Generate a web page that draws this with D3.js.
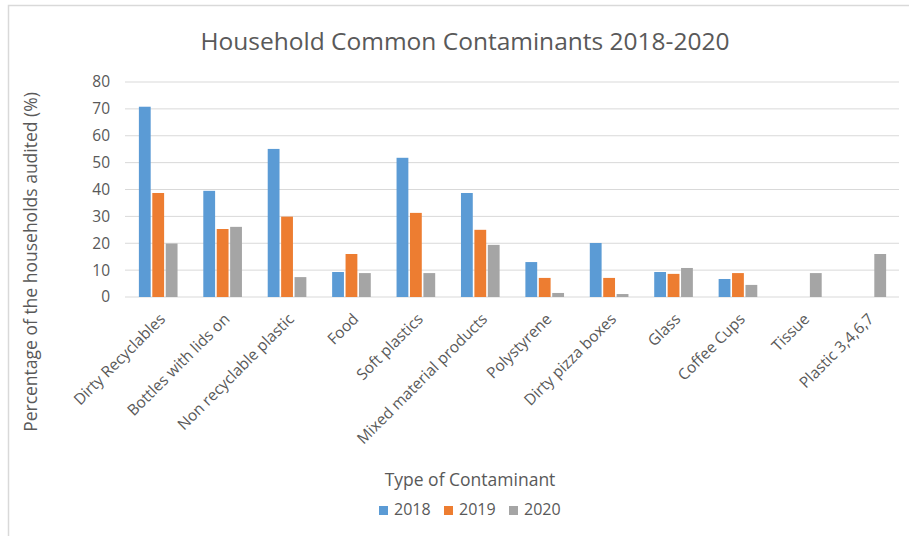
<!DOCTYPE html>
<html lang="en">
<head>
    <meta charset="UTF-8">
    <title>Household Common Contaminants 2018-2020</title>
    <style>
        body { margin: 0; background: white; }
        text { font-family: "Open Sans", "Noto Sans", sans-serif; fill: #595959; }
    </style>
</head>
<body>

    <div id="chart"></div>

    <script src="https://d3js.org/d3.v7.min.js"></script>
    <script>

    // data
    const categories = ["Dirty Recyclables", "Bottles with lids on", "Non recyclable plastic", "Food",
        "Soft plastics", "Mixed material products", "Polystyrene", "Dirty pizza boxes",
        "Glass", "Coffee Cups", "Tissue", "Plastic 3,4,6,7"];
    const years = ["2018", "2019", "2020"];
    const values2018 = [70.8, 39.5, 55.1, 9.3, 51.8, 38.7, 13.0, 20.1, 9.3, 6.7, null, null];
    const values2019 = [38.7, 25.3, 29.9, 16.0, 31.3, 25.0, 7.1, 7.1, 8.6, 8.9, null, null];
    const values2020 = [19.9, 26.1, 7.4, 8.9, 8.9, 19.4, 1.5, 1.1, 10.8, 4.5, 8.9, 16.0];
    const yTicks = [0, 10, 20, 30, 40, 50, 60, 70, 80];
    const colors = ["#5b9bd5", "#ed7d31", "#a5a5a5"];

    const series = [values2018, values2019, values2020];
    const data = categories.map((c, i) => ({
        cat: c,
        vals: years.map((y, j) => ({ year: y, v: series[j][i] }))
    }));

    // set up the page
    const W = 909, H = 536;
    const margin = {top: 82, right: 10, bottom: 239, left: 126},
        width = W - margin.left - margin.right,
        height = H - margin.top - margin.bottom;

    const root = d3.select("#chart")
        .append("svg")
        .attr("width", W)
        .attr("height", H);

    // chart frame
    root.append("rect")
        .attr("x", 8.5).attr("y", 5.5)
        .attr("width", W).attr("height", H)
        .attr("fill", "none")
        .attr("stroke", "#d9d9d9")
        .attr("stroke-width", 1.5);

    const svg = root.append("g")
        .attr("transform", `translate(${margin.left}, ${margin.top})`);

    const x = d3.scaleBand()
        .domain(categories)
        .range([0, 773])
        .paddingInner(0.35)
        .paddingOuter(0.175);

    const xSub = d3.scaleBand()
        .domain(years)
        .range([0, x.bandwidth()])
        .padding(0.12);

    const y = d3.scaleLinear()
        .domain([0, 80])
        .range([height, 0]);

    // gridlines
    svg.append("g")
        .selectAll("line")
        .data(yTicks)
        .join("line")
        .attr("x1", -1)
        .attr("x2", 773)
        .attr("y1", d => y(d))
        .attr("y2", d => y(d))
        .attr("stroke", "#d9d9d9")
        .attr("stroke-width", 1);

    // y tick labels
    svg.append("g")
        .selectAll("text")
        .data(yTicks)
        .join("text")
        .attr("x", -16)
        .attr("y", d => y(d))
        .attr("dy", "0.35em")
        .attr("text-anchor", "end")
        .style("font-size", "15.5px")
        .text(d => d);

    // bars
    svg.append("g")
        .selectAll("g")
        .data(data)
        .join("g")
        .attr("transform", d => `translate(${x(d.cat)}, 0)`)
        .selectAll("rect")
        .data(d => d.vals.filter(e => e.v !== null))
        .join("rect")
        .attr("x", d => xSub(d.year))
        .attr("y", d => y(d.v))
        .attr("width", xSub.bandwidth())
        .attr("height", d => height - y(d.v))
        .attr("fill", (d) => colors[years.indexOf(d.year)]);

    // category labels, rotated
    svg.append("g")
        .selectAll("text")
        .data(categories)
        .join("text")
        .attr("text-anchor", "end")
        .attr("transform", d => `translate(${x(d) + x.bandwidth() / 2 + 8}, ${height + 23}) rotate(-45)`)
        .style("font-size", "15.5px")
        .text(d => d);

    // title
    root.append("text")
        .attr("x", 465)
        .attr("y", 50)
        .attr("text-anchor", "middle")
        .style("font-size", "24.5px")
        .text("Household Common Contaminants 2018-2020");

    // y axis title
    root.append("text")
        .attr("transform", "rotate(-90)")
        .attr("x", -262)
        .attr("y", 37)
        .attr("text-anchor", "middle")
        .style("font-size", "17.5px")
        .text("Percentage of the households audited (%)");

    // x axis title
    root.append("text")
        .attr("x", 470)
        .attr("y", 486)
        .attr("text-anchor", "middle")
        .style("font-size", "17.5px")
        .text("Type of Contaminant");

    // legend
    const legend = root.append("g")
        .selectAll("g")
        .data(years)
        .join("g")
        .attr("transform", (d, i) => `translate(${379 + i * 65}, 515)`);

    legend.append("rect")
        .attr("x", 0).attr("y", -9)
        .attr("width", 9).attr("height", 9)
        .attr("fill", (d, i) => colors[i]);

    legend.append("text")
        .attr("x", 15)
        .attr("y", 0)
        .style("font-size", "16px")
        .text(d => d);

    </script>
</body>
</html>
